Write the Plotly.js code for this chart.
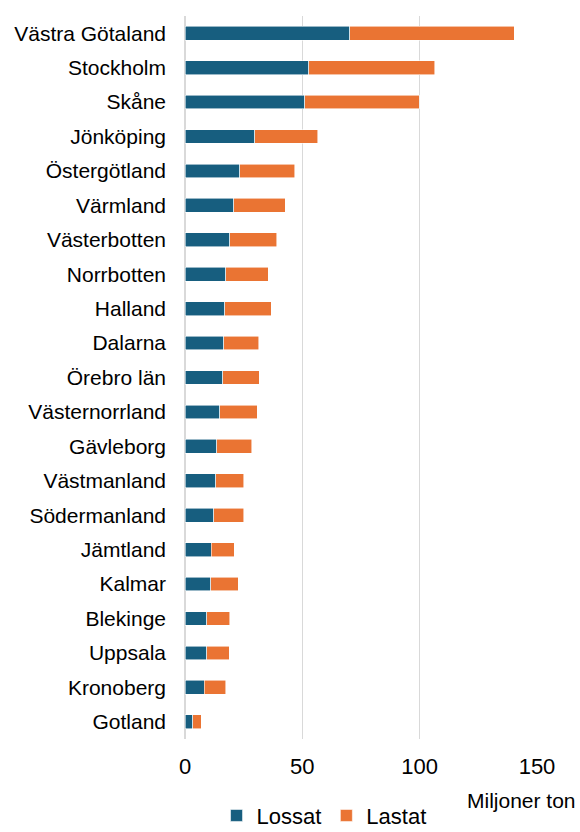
<!DOCTYPE html>
<html>
<head>
<meta charset="utf-8">
<script src="https://cdn.plot.ly/plotly-3.0.1.min.js"></script>
<style>html,body{margin:0;padding:0;background:#fff;}#chart{width:580px;height:832px;}</style>
</head>
<body>
<div id="chart"></div>
<script>
const regions = ["Västra Götaland","Stockholm","Skåne","Jönköping","Östergötland","Värmland","Västerbotten","Norrbotten","Halland","Dalarna","Örebro län","Västernorrland","Gävleborg","Västmanland","Södermanland","Jämtland","Kalmar","Blekinge","Uppsala","Kronoberg","Gotland"];
const lossat = [70.3,52.8,51.0,29.7,23.3,20.7,19.1,17.4,16.9,16.6,16.0,14.7,13.5,13.0,12.2,11.2,10.9,9.2,9.2,8.3,3.2];
const lastat = [69.9,53.6,48.9,26.8,23.5,22.1,19.9,18.0,19.9,14.9,15.7,16.1,14.9,12.0,12.9,9.8,11.8,9.9,9.7,9.1,3.8];
const xTicks = [0,50,100,150];
const seriesNames = ["Lossat","Lastat"];
const colors = ["#175e7f","#ea7433"];

const font = {family:"Liberation Sans, Arial, sans-serif", color:"#000"};
const traces = [lossat, lastat].map((vals,i)=>({
  type:"bar", orientation:"h", y:regions, x:vals, name:seriesNames[i],
  marker:{color:colors[i], line:{color:"rgba(255,255,255,0.7)", width:0.8}},
  hoverinfo:"x+y"
}));
const layout = {
  width:580, height:832,
  margin:{l:185, r:43, t:16, b:93, autoexpand:false},
  barmode:"stack", bargap:0.6,
  paper_bgcolor:"#fff", plot_bgcolor:"#fff",
  font:Object.assign({size:21}, font),
  xaxis:{range:[0,150], tickvals:xTicks, ticktext:xTicks.map(String),
    showgrid:true, gridcolor:"#d9d9d9", gridwidth:1.5,
    zeroline:true, zerolinecolor:"#d9d9d9", zerolinewidth:1.5,
    showline:false, ticks:"", tickfont:{size:22}, ticklabelstandoff:12, fixedrange:true},
  yaxis:{type:"category", autorange:"reversed", showgrid:false, zeroline:false,
    showline:false, ticks:"", tickfont:{size:21}, ticklabelstandoff:18, fixedrange:true},
  showlegend:true,
  legend:{orientation:"h", x:0.395, xanchor:"center", y:-0.106, yanchor:"middle",
    font:{size:22}, traceorder:"normal", itemclick:false, bgcolor:"rgba(0,0,0,0)"},
  annotations:[{text:"Miljoner ton", xref:"paper", yref:"paper", x:1.1165, y:-0.0844,
    xanchor:"right", yanchor:"middle", showarrow:false, font:{size:21}}]
};
Plotly.newPlot("chart", traces, layout, {displayModeBar:false, staticPlot:true});
</script>
</body>
</html>
